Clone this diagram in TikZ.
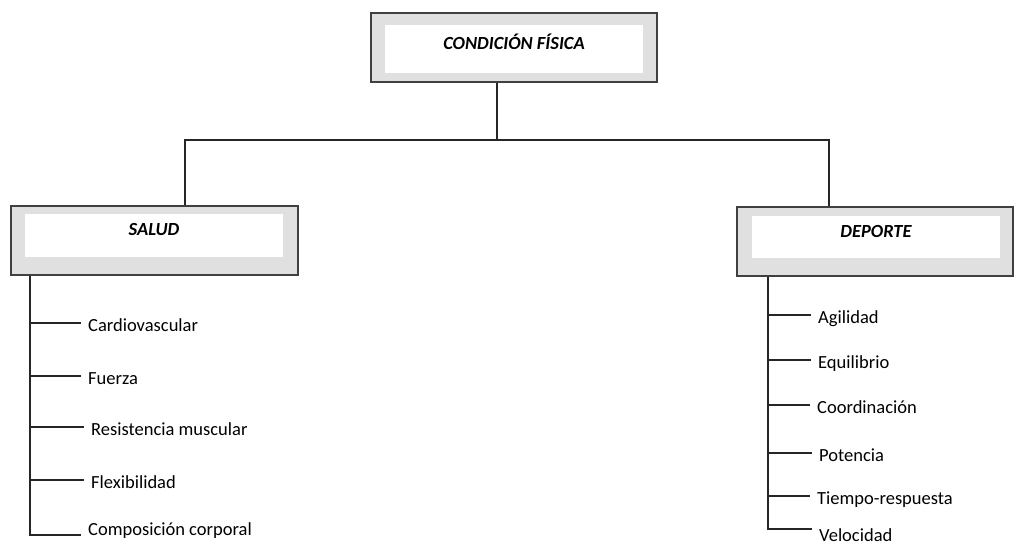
\documentclass[tikz,border=0pt]{standalone}
\usepackage{fontspec}
\setmainfont{Carlito}
\usepackage{tikz}
\usetikzlibrary{arrows,positioning}
\tikzset{
    %Define style for boxes
    outerbox/.style={
           rectangle,
           draw=black!75, line width=1.8pt,
           fill=black!12,
           inner sep=0pt,
           },
    innerbox/.style={
           rectangle,
           fill=white,
           inner sep=0pt,
           text height=8pt,
           text depth=8pt,
           font=\fontsize{18.5}{20}\selectfont\bfseries\itshape,
           text centered,
           },
    item/.style={
           anchor=west,
           inner sep=0pt,
           text height=16pt,
           text depth=0pt,
           font=\fontsize{18.5}{20}\selectfont,
           },
    % Define line style
    lin/.style={
           line width=1.3pt,
           draw=black!85,},
}
\begin{document}
\begin{tikzpicture}[x=1pt,y=-1pt,shorten >=7pt]
\useasboundingbox (0,0) rectangle (1015,542);
% boxes
\node[outerbox, minimum width=286pt, minimum height=69pt](cf) at (514,47.5){};
\node[innerbox, minimum width=258pt, minimum height=48pt](cftext) at (514,49){CONDICIÓN FÍSICA};
\node[outerbox, minimum width=287pt, minimum height=69pt](salud) at (154.5,240.5){};
\node[innerbox, minimum width=258pt, minimum height=43pt](saludtext) at (154,235.5){SALUD};
\node[outerbox, minimum width=276pt, minimum height=69pt](deporte) at (875,241.5){};
\node[innerbox, minimum width=248pt, minimum height=42pt](deportetext) at (876,237){DEPORTE};
% joints
\coordinate (split) at (497,140);
\coordinate (lj) at (185,140);
\coordinate (rj) at (829,140);
\coordinate (ltrunk) at (30,300);
\coordinate (rtrunk) at (768,300);
% items
\node[item](card) at (88,323){Cardiovascular};
\node[item](fuer) at (88,376){Fuerza};
\node[item](resi) at (91,427){Resistencia muscular};
\node[item](flex) at (91,480){Flexibilidad};
\node[item, text height=8pt, text depth=8pt](comp) at (88,535){Composición corporal};
\node[item](agil) at (818,315){Agilidad};
\node[item](equi) at (818,360){Equilibrio};
\node[item](coor) at (817,405){Coordinación};
\node[item](pote) at (819,453){Potencia};
\node[item](tiem) at (817,496){Tiempo-respuesta};
\node[item, text height=24pt](velo) at (819,529){Velocidad};
% connectors
\draw[lin, shorten >=0pt] (cf.south -| split) -- (split);
\draw[lin, shorten >=0pt] (lj |- salud.north) -- (lj) -- (rj) -- (rj |- deporte.north);
\draw[lin] (salud.south -| ltrunk) |- (comp.west);
\draw[lin] (deporte.south -| rtrunk) |- (velo.west);
\path[lin]
	(ltrunk |- card.west) edge (card.west)
	(ltrunk |- fuer.west) edge (fuer.west)
	(ltrunk |- resi.west) edge (resi.west)
	(ltrunk |- flex.west) edge (flex.west)
	(rtrunk |- agil.west) edge (agil.west)
	(rtrunk |- equi.west) edge (equi.west)
	(rtrunk |- coor.west) edge (coor.west)
	(rtrunk |- pote.west) edge (pote.west)
	(rtrunk |- tiem.west) edge (tiem.west);
\end{tikzpicture}
\end{document}
